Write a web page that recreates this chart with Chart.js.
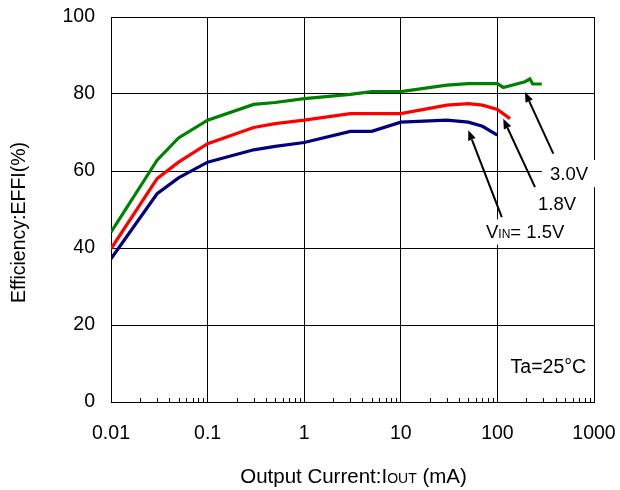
<!DOCTYPE html>
<html>
<head>
<meta charset="utf-8">
<script src="https://cdn.jsdelivr.net/npm/chart.js@4.4.0/dist/chart.umd.min.js"></script>
<style>
  html, body { margin: 0; padding: 0; background: #fff; }
  canvas { display: block; }
</style>
</head>
<body>
<canvas id="c" width="620" height="490"></canvas>
<script>
const FONT = "'Liberation Sans', Arial, Helvetica, sans-serif";

// Output current (mA) and efficiency (%) for each input voltage
const iout30 = [0.01, 0.03, 0.05, 0.1, 0.3, 0.5, 1, 3, 5, 10, 30, 50, 70, 100, 115, 193, 217, 232, 288];
const eff30  = [44.1, 62.8, 68.6, 73.2, 77.3, 77.8, 78.8, 79.9, 80.6, 80.6, 82.3, 82.7, 82.7, 82.7, 81.7, 83.2, 83.9, 82.6, 82.6];

const iout18 = [0.01, 0.03, 0.05, 0.1, 0.3, 0.5, 1, 3, 10, 30, 50, 70, 100, 135];
const eff18  = [39.8, 58.0, 62.3, 67.1, 71.3, 72.3, 73.2, 74.9, 74.9, 77.1, 77.5, 77.1, 76.0, 73.6];

const iout15 = [0.01, 0.03, 0.05, 0.1, 0.3, 0.5, 1, 3, 5, 10, 30, 50, 70, 100];
const eff15  = [37.2, 54.1, 58.2, 62.3, 65.5, 66.4, 67.4, 70.3, 70.3, 72.7, 73.2, 72.7, 71.6, 69.3];

// Axis ticks
const xTickValues = [0.01, 0.1, 1, 10, 100, 1000];
const xTickLabels = ['0.01', '0.1', '1', '10', '100', '1000'];
const yTickValues = [0, 20, 40, 60, 80, 100];
const yTickLabels = ['0', '20', '40', '60', '80', '100'];

// Series names
const seriesNames = ['3.0V', '1.8V', '1.5V'];

const toPoints = (xs, ys) => xs.map((v, i) => ({ x: v, y: ys[i] }));

// Callout arrows: tail (x, y) -> tip (x, y), in data units
const arrows = [
  { from: [379, 64.5], to: [193, 80.5] },
  { from: [245, 55.8], to: [115, 73.6] },
  { from: [111, 48.0], to: [50, 70.6] }
];

// Text callouts; x = left edge, y = baseline (data units)
const callouts = [
  { x: 350, y: 57.6, parts: [['3.0V', 18.5]], pad: [8, 9, 7, 7] },
  { x: 263, y: 50.0, parts: [['1.8V', 18.5]], pad: [7, 7, 6, 6] },
  { x: 76.2, y: 42.7, parts: [['V', 18.5], ['IN', 12], ['= 1.5V', 18.5]], pad: [7, 6, 5, 7] },
  { x: 137, y: 7.6, parts: [['Ta=25°C', 19.5]], pad: null }
];

function drawParts(ctx, parts, x, y) {
  let cx = x;
  for (const [t, size] of parts) {
    ctx.font = size + 'px ' + FONT;
    ctx.fillText(t, cx, y);
    cx += ctx.measureText(t).width;
  }
  return cx - x;
}
function measureParts(ctx, parts) {
  let w = 0;
  for (const [t, size] of parts) {
    ctx.font = size + 'px ' + FONT;
    w += ctx.measureText(t).width;
  }
  return w;
}

// keep tick label overflow from shrinking the plot area
function noScalePadding(s) {
  s.paddingTop = 0;
  s.paddingBottom = 0;
  s.paddingLeft = 0;
  s.paddingRight = 0;
}

const decorations = {
  id: 'decorations',
  afterDraw(chart) {
    const { ctx, chartArea: a } = chart;
    const xs = chart.scales.x, ys = chart.scales.y;
    ctx.save();

    // minor log ticks pointing into the plot along the bottom
    ctx.strokeStyle = '#000';
    ctx.lineWidth = 1;
    ctx.beginPath();
    for (let d = -2; d < 3; d++) {
      for (let m = 2; m <= 9; m++) {
        const px = Math.round(xs.getPixelForValue(m * Math.pow(10, d))) + 0.5;
        ctx.moveTo(px, a.bottom);
        ctx.lineTo(px, a.bottom - 4);
      }
    }
    ctx.stroke();

    // callout texts on white boxes
    ctx.textAlign = 'left';
    ctx.textBaseline = 'alphabetic';
    for (const c of callouts) {
      const px = xs.getPixelForValue(c.x);
      const py = ys.getPixelForValue(c.y);
      const w = measureParts(ctx, c.parts);
      if (c.pad) {
        const capH = 0.716 * c.parts[0][1];
        ctx.fillStyle = '#fff';
        ctx.fillRect(px - c.pad[0], py - capH - c.pad[2], w + c.pad[0] + c.pad[1], capH + c.pad[2] + c.pad[3]);
      }
      ctx.fillStyle = '#000';
      drawParts(ctx, c.parts, px, py);
    }

    // arrows
    ctx.strokeStyle = '#000';
    ctx.fillStyle = '#000';
    ctx.lineWidth = 2;
    for (const ar of arrows) {
      const x0 = xs.getPixelForValue(ar.from[0]), y0 = ys.getPixelForValue(ar.from[1]);
      const x1 = xs.getPixelForValue(ar.to[0]), y1 = ys.getPixelForValue(ar.to[1]);
      const ang = Math.atan2(y1 - y0, x1 - x0);
      const hl = 10, hw = 4;
      const bx = x1 - hl * Math.cos(ang), by = y1 - hl * Math.sin(ang);
      ctx.beginPath();
      ctx.moveTo(x0, y0);
      ctx.lineTo(bx, by);
      ctx.stroke();
      ctx.beginPath();
      ctx.moveTo(x1, y1);
      ctx.lineTo(bx + hw * Math.sin(ang), by - hw * Math.cos(ang));
      ctx.lineTo(bx - hw * Math.sin(ang), by + hw * Math.cos(ang));
      ctx.closePath();
      ctx.fill();
    }

    // axis titles
    ctx.fillStyle = '#000';
    const xTitle = [['Output Current:I', 20.5], ['OUT', 14], [' (mA)', 20.5]];
    const tw = measureParts(ctx, xTitle);
    const midX = (a.left + a.right) / 2 + 1;
    drawParts(ctx, xTitle, midX - tw / 2, 483);

    ctx.translate(25, (a.top + a.bottom) / 2 + 13);
    ctx.rotate(-Math.PI / 2);
    ctx.font = '19.5px ' + FONT;
    ctx.textAlign = 'center';
    ctx.fillText('Efficiency:EFFI(%)', 0, 0);

    ctx.restore();
  }
};

const lineStyle = (color) => ({
  borderColor: color,
  backgroundColor: color,
  borderWidth: 3.2,
  showLine: true,
  fill: false,
  pointRadius: 0,
  pointHoverRadius: 0,
  tension: 0
});

new Chart(document.getElementById('c'), {
  type: 'scatter',
  data: {
    datasets: [
      { label: seriesNames[0], data: toPoints(iout30, eff30), ...lineStyle('#008000') },
      { label: seriesNames[1], data: toPoints(iout18, eff18), ...lineStyle('#ff0000') },
      { label: seriesNames[2], data: toPoints(iout15, eff15), ...lineStyle('#000080') }
    ]
  },
  options: {
    responsive: false,
    animation: false,
    devicePixelRatio: 1,
    layout: { padding: { top: 17, right: 26, left: 0, bottom: 0 } },
    plugins: { legend: { display: false }, tooltip: { enabled: false } },
    scales: {
      x: {
        type: 'logarithmic',
        position: 'bottom',
        min: xTickValues[0],
        max: xTickValues[xTickValues.length - 1],
        afterBuildTicks(s) { s.ticks = xTickValues.map(v => ({ value: v })); },
        afterFit(s) { s.height = 88; noScalePadding(s); },
        grid: { color: '#000', lineWidth: 1, drawTicks: false },
        border: { display: true, color: '#000', width: 1 },
        ticks: {
          autoSkip: false,
          maxRotation: 0,
          padding: 20,
          color: '#000',
          font: { family: FONT, size: 19.5 },
          callback: (v) => {
            const i = xTickValues.findIndex(t => Math.abs(t - v) / t < 1e-6);
            return i >= 0 ? xTickLabels[i] : '';
          }
        }
      },
      y: {
        type: 'linear',
        min: yTickValues[0],
        max: yTickValues[yTickValues.length - 1],
        afterBuildTicks(s) { s.ticks = yTickValues.map(v => ({ value: v })); },
        afterFit(s) { s.width = 111; noScalePadding(s); },
        grid: { color: '#000', lineWidth: 1, drawTicks: false },
        border: { display: true, color: '#000', width: 1 },
        ticks: {
          padding: 16,
          color: '#000',
          font: { family: FONT, size: 19.5 },
          callback: (v) => {
            const i = yTickValues.indexOf(v);
            return i >= 0 ? yTickLabels[i] : '';
          }
        }
      }
    }
  },
  plugins: [decorations]
});
</script>
</body>
</html>
